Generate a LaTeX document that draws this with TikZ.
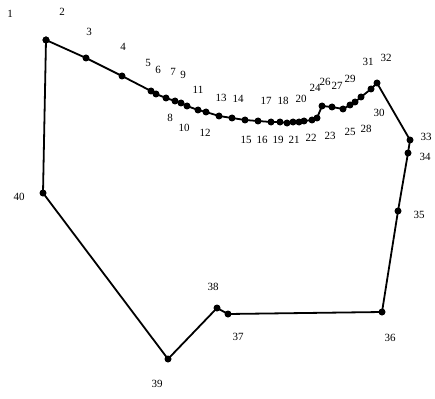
\documentclass[tikz,border=0pt]{standalone}
\usepackage{fontspec}
\setmainfont{Liberation Serif}
\usepackage{tikz}
\usetikzlibrary{positioning}

\begin{document}
\begin{tikzpicture}[
  x=1pt, y=-1pt,
  pt/.style={circle, fill=black, inner sep=0pt, minimum size=7pt},
  num/.style={inner sep=0pt, font=\fontsize{11}{11}\selectfont},
  edge/.style={line width=1.8pt, line join=round},
]
  \useasboundingbox (0,0) rectangle (435,398);

  % Upper curve
  \node[pt] (p1) at (46,40) {};   \node[num] (l1) at (10,14) {1};
  \node[pt] (p2) at (46,40) {};   \node[num] (l2) at (62,12) {2};
  \node[pt] (p3) at (86,58) {};   \node[num] (l3) at (89,32) {3};
  \node[pt] (p4) at (122,76) {};  \node[num] (l4) at (123,47) {4};
  \node[pt] (p5) at (151,91) {};  \node[num] (l5) at (148,63) {5};
  \node[pt] (p6) at (156,94) {};  \node[num] (l6) at (158,70) {6};
  \node[pt] (p7) at (166,98) {};  \node[num] (l7) at (173,72) {7};
  \node[pt] (p8) at (175,101) {}; \node[num] (l8) at (170,118) {8};
  \node[pt] (p9) at (181,103) {}; \node[num] (l9) at (183,75) {9};
  \node[pt] (p10) at (187,106) {}; \node[num] (l10) at (184,128) {10};
  \node[pt] (p11) at (198,110) {}; \node[num] (l11) at (198,90) {11};
  \node[pt] (p12) at (206,112) {}; \node[num] (l12) at (205,133) {12};
  \node[pt] (p13) at (219,116) {}; \node[num] (l13) at (221,98) {13};
  \node[pt] (p14) at (232,118) {}; \node[num] (l14) at (238,99) {14};
  \node[pt] (p15) at (245,120) {}; \node[num] (l15) at (246,140) {15};
  \node[pt] (p16) at (258,121) {}; \node[num] (l16) at (262,140) {16};
  \node[pt] (p17) at (271,122) {}; \node[num] (l17) at (266,101) {17};
  \node[pt] (p18) at (280,122) {}; \node[num] (l18) at (283,101) {18};
  \node[pt] (p19) at (287,123) {}; \node[num] (l19) at (278,140) {19};
  \node[pt] (p20) at (293,122) {}; \node[num] (l20) at (301,99) {20};
  \node[pt] (p21) at (299,122) {}; \node[num] (l21) at (294,140) {21};
  \node[pt] (p22) at (304,121) {}; \node[num] (l22) at (311,138) {22};
  \node[pt] (p23) at (312,120) {}; \node[num] (l23) at (330,136) {23};
  \node[pt] (p24) at (317,118) {}; \node[num] (l24) at (315,88) {24};
  \node[pt] (p25) at (322,106) {}; \node[num] (l25) at (350,132) {25};
  \node[pt] (p26) at (332,107) {}; \node[num] (l26) at (325,82) {26};
  \node[pt] (p27) at (343,109) {}; \node[num] (l27) at (337,86) {27};
  \node[pt] (p28) at (350,105) {}; \node[num] (l28) at (366,129) {28};
  \node[pt] (p29) at (355,102) {}; \node[num] (l29) at (350,79) {29};
  \node[pt] (p30) at (361,97) {};  \node[num] (l30) at (379,113) {30};
  \node[pt] (p31) at (371,89) {};  \node[num] (l31) at (368,62) {31};
  \node[pt] (p32) at (377,83) {};  \node[num] (l32) at (386,58) {32};

  % Outer boundary
  \node[pt] (p33) at (410,140) {}; \node[num] (l33) at (426,137) {33};
  \node[pt] (p34) at (408,153) {}; \node[num] (l34) at (425,157) {34};
  \node[pt] (p35) at (398,211) {}; \node[num] (l35) at (419,215) {35};
  \node[pt] (p36) at (382,312) {}; \node[num] (l36) at (390,338) {36};
  \node[pt] (p37) at (228,314) {}; \node[num] (l37) at (238,337) {37};
  \node[pt] (p38) at (217,308) {}; \node[num] (l38) at (213,287) {38};
  \node[pt] (p39) at (168,359) {}; \node[num] (l39) at (157,384) {39};
  \node[pt] (p40) at (43,193) {};  \node[num] (l40) at (19,197) {40};

  % Polygon
  \draw[edge] (p1.center) -- (p3.center) -- (p4.center) -- (p5.center)
    -- (p6.center) -- (p7.center) -- (p8.center) -- (p9.center)
    -- (p10.center) -- (p11.center) -- (p12.center) -- (p13.center)
    -- (p14.center) -- (p15.center) -- (p16.center) -- (p17.center)
    -- (p18.center) -- (p19.center) -- (p20.center) -- (p21.center)
    -- (p22.center) -- (p23.center) -- (p24.center) -- (p25.center)
    -- (p26.center) -- (p27.center) -- (p28.center) -- (p29.center)
    -- (p30.center) -- (p31.center) -- (p32.center) -- (p33.center)
    -- (p34.center) -- (p35.center) -- (p36.center) -- (p37.center)
    -- (p38.center) -- (p39.center) -- (p40.center) -- cycle;
\end{tikzpicture}
\end{document}
